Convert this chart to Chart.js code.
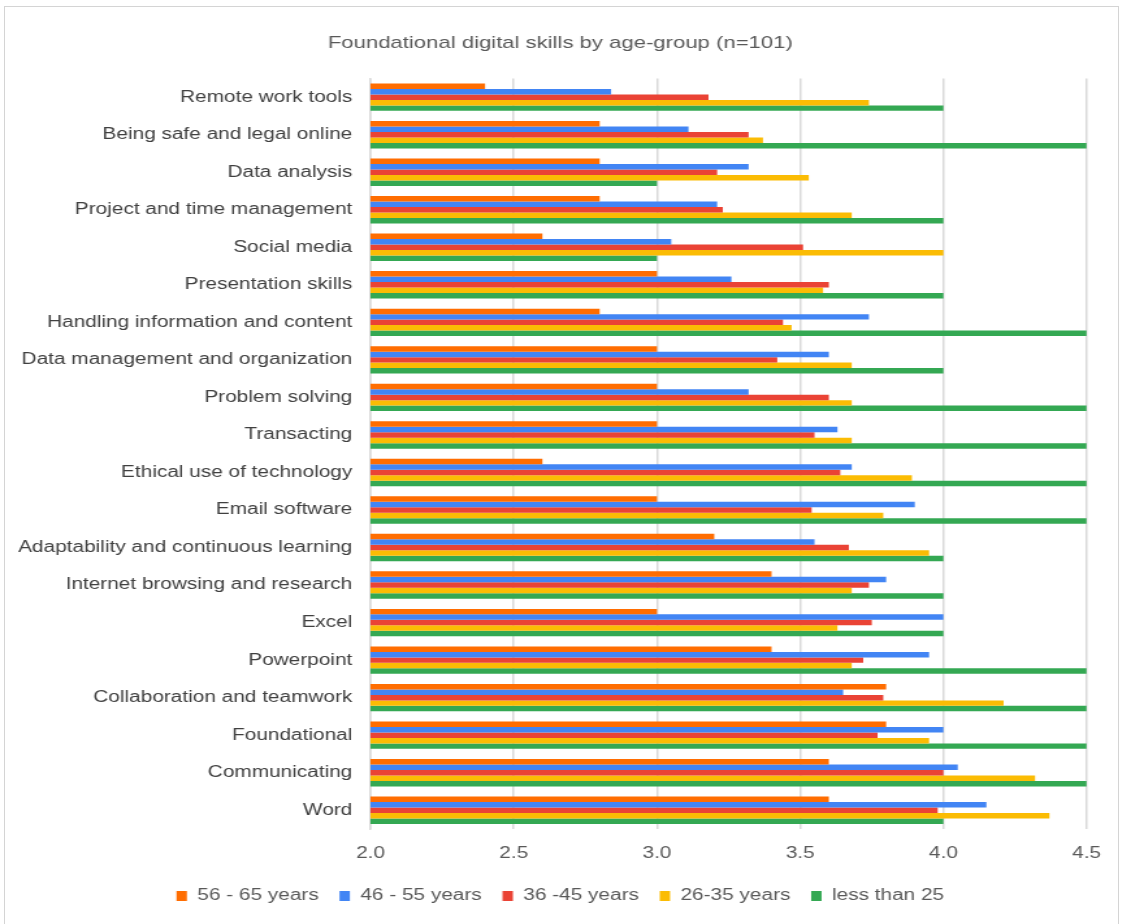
<!DOCTYPE html>
<html>
<head>
<meta charset="utf-8">
<script src="https://cdn.jsdelivr.net/npm/chart.js@4"></script>
<style>
  html, body { margin: 0; padding: 0; background: #fff; }
  #wrap { position: relative; width: 1121px; height: 924px; overflow: hidden; }
  /* the source picture is stretched sideways, so the chart is drawn narrow and widened */
  #stretch { position: absolute; left: 0; top: 0; width: 862px; height: 924px;
             transform: scaleX(1.3); transform-origin: 0 0; }
  #frame { position: absolute; left: 4px; top: 6px; width: 1113px; height: 930px;
           border: 1px solid #d4d4d4; pointer-events: none; }
</style>
</head>
<body>
<div id="wrap">
  <div id="stretch"><canvas id="chart" width="862" height="924"></canvas></div>
  <div id="frame"></div>
</div>
<script>
// skills, top to bottom
const skills = [
  "Remote work tools", "Being safe and legal online", "Data analysis",
  "Project and time management", "Social media", "Presentation skills",
  "Handling information and content", "Data management and organization",
  "Problem solving", "Transacting", "Ethical use of technology", "Email software",
  "Adaptability and continuous learning", "Internet browsing and research",
  "Excel", "Powerpoint", "Collaboration and teamwork", "Foundational",
  "Communicating", "Word"
];

const age56to65 = [2.40, 2.80, 2.80, 2.80, 2.60, 3.00, 2.80, 3.00, 3.00, 3.00,
                   2.60, 3.00, 3.20, 3.40, 3.00, 3.40, 3.80, 3.80, 3.60, 3.60];
const age46to55 = [2.84, 3.11, 3.32, 3.21, 3.05, 3.26, 3.74, 3.60, 3.32, 3.63,
                   3.68, 3.90, 3.55, 3.80, 4.00, 3.95, 3.65, 4.00, 4.05, 4.15];
const age36to45 = [3.18, 3.32, 3.21, 3.23, 3.51, 3.60, 3.44, 3.42, 3.60, 3.55,
                   3.64, 3.54, 3.67, 3.74, 3.75, 3.72, 3.79, 3.77, 4.00, 3.98];
const age26to35 = [3.74, 3.37, 3.53, 3.68, 4.00, 3.58, 3.47, 3.68, 3.68, 3.68,
                   3.89, 3.79, 3.95, 3.68, 3.63, 3.68, 4.21, 3.95, 4.32, 4.37];
const under25   = [4.00, 4.50, 3.00, 4.00, 3.00, 4.00, 4.50, 4.00, 4.50, 4.50,
                   4.50, 4.50, 4.00, 4.00, 4.00, 4.50, 4.50, 4.50, 4.50, 4.00];

const xTicks = [2.0, 2.5, 3.0, 3.5, 4.0, 4.5];

const FONT = "'Liberation Sans', Arial, sans-serif";
const GRID = "#d9d9d9";

const series = [
  { label: "56 - 65 years", data: age56to65, color: "#FF6D01" },
  { label: "46 - 55 years", data: age46to55, color: "#4285F4" },
  { label: "36 -45 years",  data: age36to45, color: "#EA4335" },
  { label: "26-35 years",   data: age26to35, color: "#FBBC04" },
  { label: "less than 25",  data: under25,   color: "#34A853" }
];

new Chart(document.getElementById("chart"), {
  type: "bar",
  data: {
    labels: skills,
    datasets: series.map(s => ({
      label: s.label, data: s.data,
      backgroundColor: s.color, borderWidth: 0,
      barPercentage: 1.0, categoryPercentage: 0.73
    }))
  },
  options: {
    indexAxis: "y",
    responsive: false,
    animation: false,
    devicePixelRatio: 1,
    // right margin comes from the last x label overhang (half label + tick padding)
    layout: { padding: { left: 0, right: 0, top: 0, bottom: 10 } },
    plugins: {
      title: {
        display: true, text: "Foundational digital skills by age-group (n=101)",
        color: "#595959", font: { family: FONT, size: 17, weight: "normal" },
        padding: { top: 33, bottom: 25 }
      },
      legend: {
        position: "bottom",
        labels: {
          color: "#595959", font: { family: FONT, size: 16 },
          boxWidth: 8, boxHeight: 10, padding: 16
        }
      },
      tooltip: { enabled: false }
    },
    scales: {
      x: {
        min: 2.0, max: 4.5,
        afterBuildTicks: sc => { sc.ticks = xTicks.map(v => ({ value: v })); },
        afterFit: sc => { sc.height = 43; },
        grid: { color: GRID, lineWidth: 1.5, drawTicks: false },
        border: { display: false },
        ticks: {
          color: "#595959", font: { family: FONT, size: 16, lineHeight: 1.25 }, padding: 15,
          callback: v => Number(v).toFixed(1)
        }
      },
      y: {
        afterFit: sc => { sc.width = 285; },
        grid: { display: false, drawTicks: false },
        border: { color: GRID, width: 1.5 },
        ticks: {
          color: "#404040", font: { family: FONT, size: 16 }, padding: 14,
          autoSkip: false
        }
      }
    }
  }
});
</script>
</body>
</html>
